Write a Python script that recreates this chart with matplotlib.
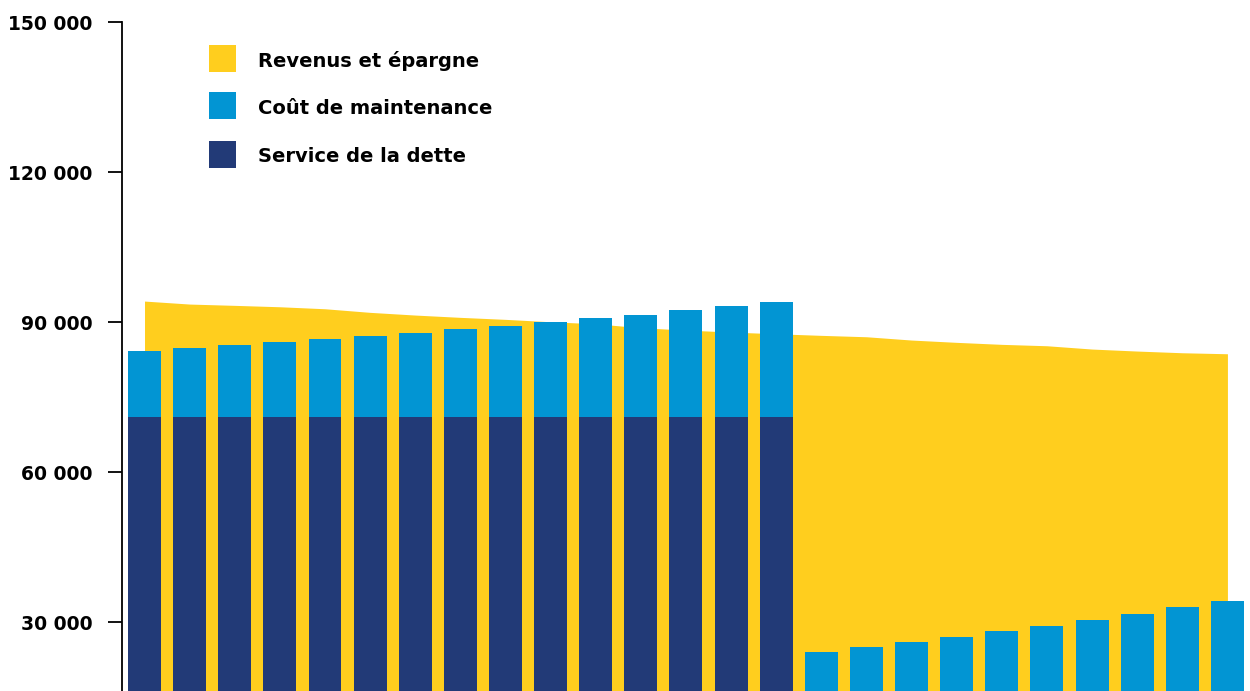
import numpy as np
import matplotlib
matplotlib.use("Agg")
import matplotlib.pyplot as plt
from matplotlib.patches import Rectangle

plt.rcParams['font.family'] = ['DejaVu Sans']

# data
revenus = [94200, 93600, 93340, 93060, 92660, 91940, 91400, 90940, 90540, 90060,
           89660, 88860, 88400, 88000, 87660, 87340, 87060, 86400, 85940, 85540,
           85260, 84600, 84200, 83860, 83660]
dette = [71000] * 15 + [0] * 10
cout_total = [84200, 84800, 85400, 86000, 86600, 87200, 87800, 88600, 89200, 90000,
              90800, 91400, 92400, 93200, 94000,
              24000, 25000, 26000, 27000, 28200, 29200, 30400, 31600, 33000, 34200]
maintenance = [c - d for c, d in zip(cout_total, dette)]
yticks = [30000, 60000, 90000, 120000, 150000]
labels = ['Revenus et épargne', 'Coût de maintenance', 'Service de la dette']

c_yellow = '#FFCE1E'
c_blue = '#0295D3'
c_navy = '#223A77'

x = np.arange(len(revenus))

fig = plt.figure(figsize=(12.5, 6.91), dpi=100)
ax = fig.add_axes([0.0972, 0.0, 0.9028, 0.968])

ax.fill_between(x, 0, revenus, color=c_yellow, lw=0, zorder=1)
ax.bar(x, dette, width=0.731, color=c_navy, zorder=2)
ax.bar(x, maintenance, width=0.731, bottom=dette, color=c_blue, zorder=2)

ax.set_xlim(-0.51, 24.5)
ax.set_ylim(16200, 150000)
ax.set_yticks(yticks)
ax.set_yticklabels([f'{v:,}'.replace(',', ' ') for v in yticks],
                   fontsize=13.5, fontweight='bold')
ax.set_xticks([])
for s in ['top', 'right', 'bottom']:
    ax.spines[s].set_visible(False)
ax.spines['left'].set_linewidth(1.3)
ax.tick_params(axis='y', length=10, width=1.3, pad=11)

# legend
colors = [c_yellow, c_blue, c_navy]
tops = [45, 92, 141]
W, H = 1250, 691
for lab, col, t in zip(labels, colors, tops):
    fig.add_artist(Rectangle((209 / W, 1 - (t + 27) / H), 27 / W, 27 / H,
                             transform=fig.transFigure, color=col, lw=0))
    fig.text(258 / W, 1 - (t + 16) / H, lab, fontsize=14, fontweight='bold',
             va='center', ha='left')

fig.savefig('out.png', dpi=100)
